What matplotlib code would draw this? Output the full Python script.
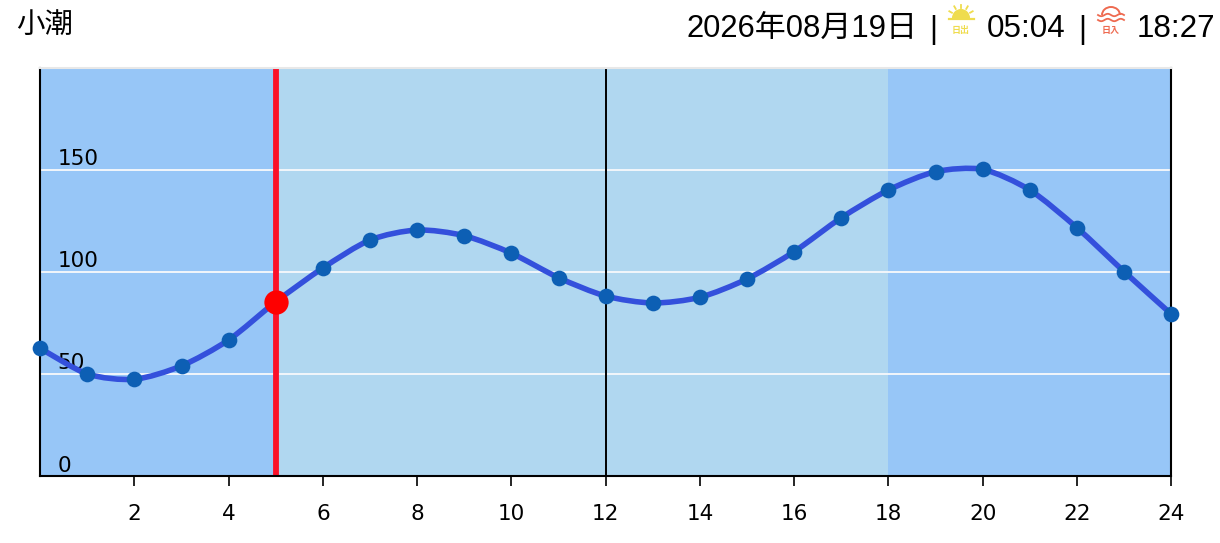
#!/usr/bin/env python3
"""Tide chart: hourly tide height with sunrise/sunset bands."""

import numpy as np
import matplotlib
matplotlib.use("Agg")
import matplotlib.pyplot as plt
from matplotlib.patches import Wedge, PathPatch, Arc
from matplotlib.path import Path

plt.rcParams['font.family'] = ['Liberation Sans', 'Noto Sans CJK JP', 'DejaVu Sans']

# Data
hours = list(range(25))
tide = [62.6, 50, 47.4, 54, 66.7, 85.4, 102, 115.7, 120.6, 117.8, 109.2, 97.2, 88.2,
        84.8, 87.6, 96.6, 110, 126.6, 140.2, 149.2, 150.3, 140.2, 121.7, 100.2, 79.4]
now_hour = 5
now_tide = 85.4
day_start = 5
day_end = 18
xticks = list(range(2, 25, 2))
ygrid = [50, 100, 150]
ylabels = [0, 50, 100, 150]
tide_name = "小潮"
date_label = "2026年08月19日"
sunrise = "05:04"
sunset = "18:27"

W, H = 1220, 543
NIGHT = "#97c6f7"
DAY = "#b0d7f0"
LINE = "#3450dc"
DOT = "#0d5fb4"
SUN = "#efdc4e"
SET = "#ee6a50"


def smooth_path(xs, ys, k=0.13):
    # Catmull-Rom through the points, as bezier segments
    pts = np.column_stack([xs, ys])
    verts = [pts[0]]
    codes = [Path.MOVETO]
    for i in range(len(pts) - 1):
        p0 = pts[max(i - 1, 0)]
        p1, p2 = pts[i], pts[i + 1]
        p3 = pts[min(i + 2, len(pts) - 1)]
        verts += [p1 + (p2 - p0) * k, p2 - (p3 - p1) * k, p2]
        codes += [Path.CURVE4] * 3
    return Path(verts, codes)


def main():
    fig = plt.figure(figsize=(W / 100, H / 100), dpi=100)
    ax = fig.add_axes([40.2 / W, 1 - 476 / H, 1131 / W, 408 / H])
    ax.set_xlim(0, 24)
    ax.set_ylim(0, 200)

    # Night / day bands
    ax.set_facecolor(NIGHT)
    ax.axvspan(day_start, day_end, color=DAY, lw=0, zorder=0)

    for v in ygrid:
        ax.axhline(v, color="#f2f6fb", lw=1.4, zorder=1)
    ax.axvline(12, color="black", lw=1.4, zorder=1.5)
    ax.axvline(now_hour, color="#fb1028", lw=4.2, zorder=2)

    for v in ylabels:
        ax.annotate(str(v), (0, v), xytext=(17, 11 if v else 10), textcoords="offset pixels",
                    fontsize=15.5, family="DejaVu Sans", va="center", ha="left", zorder=2.5)

    ax.add_patch(PathPatch(smooth_path(hours, tide), fc="none", ec=LINE, lw=4.0,
                           capstyle="round", zorder=3))
    ax.plot(hours, tide, "o", color=DOT, ms=11.3, mew=0, zorder=4, clip_on=False)
    ax.plot([now_hour], [now_tide], "o", color="#fe0000", ms=17.5, mew=0, zorder=5)

    for s in ["left", "right", "bottom"]:
        ax.spines[s].set_linewidth(1.5)
    ax.spines["top"].set_color("#e8e8e8")
    ax.spines["top"].set_linewidth(1.5)
    ax.set_yticks([])
    ax.set_xticks(xticks)
    ax.tick_params(axis="x", length=7, width=1.2, pad=13.5, labelsize=15.5)
    for lab in ax.get_xticklabels():
        lab.set_family("DejaVu Sans")

    # Header in pixel coordinates
    hd = fig.add_axes([0, 0, 1, 1], facecolor="none")
    hd.set_xlim(0, W)
    hd.set_ylim(H, 0)
    hd.axis("off")
    txt = dict(va="center", ha="left", color="black")
    hd.text(16, 26, tide_name, fontsize=20.5, **txt)
    hd.text(687, 29, date_label, fontsize=22.3, **txt)
    hd.text(929, 30, "|", fontsize=22, **txt)
    hd.text(987, 29, sunrise, fontsize=22.6, **txt)
    hd.text(1078, 30, "|", fontsize=22, **txt)
    hd.text(1137, 29, sunset, fontsize=22.6, **txt)

    # Sunrise icon
    hd.add_patch(Wedge((961, 18), 9, 180, 360, fc=SUN, ec="none"))
    hd.plot([949, 974], [18.5, 18.5], color=SUN, lw=1.6)
    for a in [-60, -30, 0, 30, 60]:
        r = np.radians(a)
        hd.plot([961 + 10.5 * np.sin(r), 961 + 13.5 * np.sin(r)],
                [18 - 10.5 * np.cos(r), 18 - 13.5 * np.cos(r)], color=SUN, lw=1.3)
    hd.text(961, 30, "日出", fontsize=6.5, color=SUN, ha="center", va="center", weight="bold")

    # Sunset icon
    hd.add_patch(Arc((1111, 15), 18, 16, theta1=180, theta2=360, ec=SET, lw=1.4))
    for y0 in [15, 20]:
        xs = np.linspace(1098, 1124, 40)
        hd.plot(xs, y0 + 1.2 * np.sin((xs - 1098) / 26 * 4 * np.pi), color=SET, lw=1.3)
    hd.text(1111, 30, "日入", fontsize=6.5, color=SET, ha="center", va="center", weight="bold")

    fig.savefig("out.png", dpi=100)


if __name__ == "__main__":
    main()
